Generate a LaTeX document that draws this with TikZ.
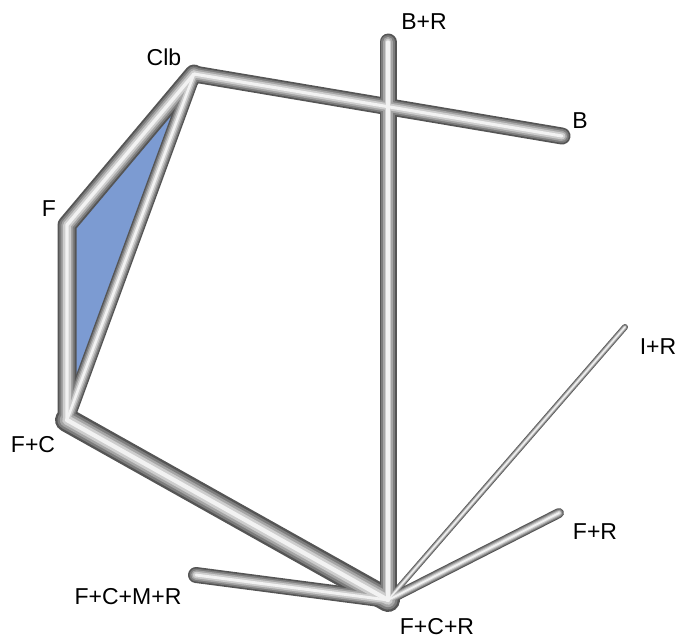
\documentclass[tikz,border=0pt]{standalone}
\usepackage{fontspec}
\setmainfont{Liberation Sans}
\definecolor{tA}{RGB}{85,85,85}
\definecolor{tB}{RGB}{125,125,125}
\definecolor{tC}{RGB}{165,165,165}
\definecolor{tD}{RGB}{205,205,205}
\definecolor{tE}{RGB}{242,242,242}
\definecolor{triblue}{RGB}{124,155,210}
\tikzset{
  lbl/.style={font=\fontsize{23}{27}\selectfont, inner sep=0pt, text=black},
  tube/.style={line cap=round, line join=round},
}
\begin{document}
\begin{tikzpicture}[x=1pt,y=-1pt]
\useasboundingbox (0,0) rectangle (678,641);
% tube end points
\coordinate (clb) at (194,74);
\coordinate (b) at (562,136);
\coordinate (br) at (388,42);
\coordinate (f) at (67,225);
\coordinate (fc) at (67,420);
\coordinate (fcr) at (388,600);
\coordinate (fcmr) at (196,575);
\coordinate (ir) at (625,327);
\coordinate (fr) at (559,513);
% labels
\node[lbl] (Lclb) at (164,57) {Clb};
\node[lbl] (Lbr) at (424,22) {B+R};
\node[lbl] (Lb) at (580,121) {B};
\node[lbl] (Lf) at (49,209) {F};
\node[lbl] (Lfc) at (33,445) {F+C};
\node[lbl] (Lfcr) at (437,627) {F+C+R};
\node[lbl] (Lfcmr) at (128,597) {F+C+M+R};
\node[lbl] (Lir) at (658,347) {I+R};
\node[lbl] (Lfr) at (595,532) {F+R};
% blue triangle
\fill[triblue] (f) -- (clb) -- (fc) -- cycle;
% tubes, layered
\foreach \k/\c in {1/tA,0.8/tB,0.6/tC,0.4/tD,0.18/tE}{
  \draw[tube,\c,line width=\k*6pt] (ir) -- (fcr);
  \draw[tube,\c,line width=\k*10pt] (fr) -- (fcr);
  \draw[tube,\c,line width=\k*16pt] (fcmr) -- (fcr);
  \draw[tube,\c,line width=\k*17pt] (br) -- (fcr);
  \draw[tube,\c,line width=\k*17pt] (clb) -- (b);
  \draw[tube,\c,line width=\k*14pt] (clb) -- (fc);
  \draw[tube,\c,line width=\k*19pt] (fc) -- (f) -- (clb);
  \draw[tube,\c,line width=\k*24pt] (fc) -- (fcr);
}
\end{tikzpicture}
\end{document}
